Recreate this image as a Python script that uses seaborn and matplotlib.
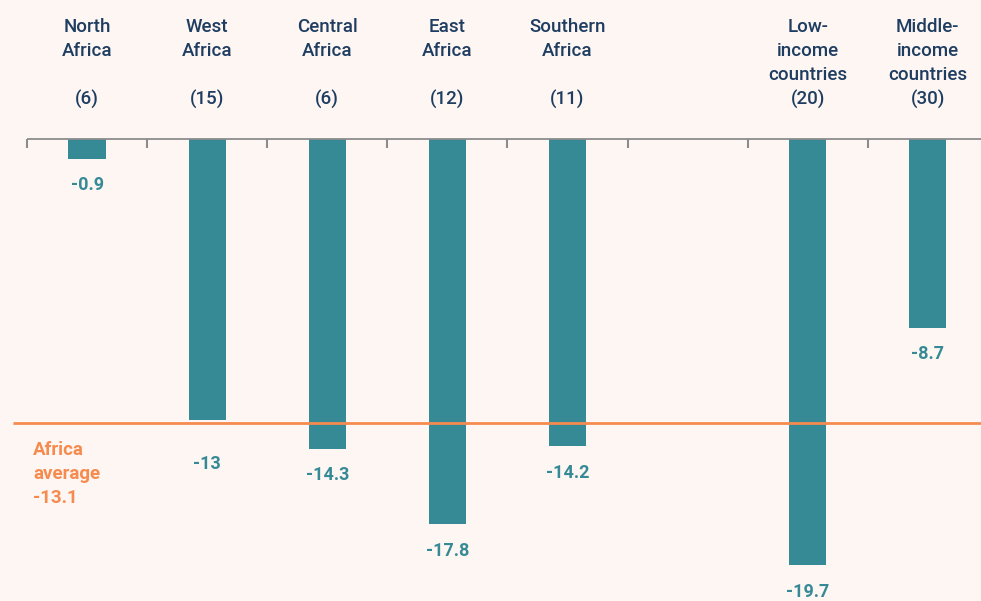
import matplotlib
matplotlib.use("Agg")
import matplotlib.pyplot as plt
import matplotlib.transforms as mtransforms
import numpy as np
import pandas as pd
import seaborn as sns

# Regional and income-group figures (number of countries in brackets)
regions = ["North\nAfrica", "West\nAfrica", "Central\nAfrica", "East\nAfrica", "Southern\nAfrica"]
region_counts = [6, 15, 6, 12, 11]
region_values = [-0.9, -13.0, -14.3, -17.8, -14.2]

income_groups = ["Low-\nincome\ncountries", "Middle-\nincome\ncountries"]
income_counts = [20, 30]
income_values = [-19.7, -8.7]

africa_average = -13.1

BG = "#FEF6F3"
TEAL = "#368A96"
ORANGE = "#F68B4F"
NAVY = "#1E3D60"
GREY = "#8C8C8C"

sns.set_theme(style="white")
plt.rcParams["font.family"] = ["Roboto", "DejaVu Sans"]

# Regions first, then an empty slot, then the income groups
positions = list(range(len(regions))) + [len(regions) + 1 + i for i in range(len(income_groups))]
labels = regions + income_groups
counts = region_counts + income_counts
values = region_values + income_values

df = pd.DataFrame({"pos": positions, "value": values, "label": labels, "count": counts})

fig = plt.figure(figsize=(9.81, 6.01), dpi=100, facecolor=BG)
ax = fig.add_axes([0, 0, 1, 1])
ax.set_facecolor(BG)

sns.barplot(data=df, x="pos", y="value", native_scale=True, width=0.31,
            color=TEAL, saturation=1, edgecolor="none", ax=ax)

x_left, x_right = -0.725, 7.443
ax.set_xlim(x_left, x_right)
ax.set_ylim(-21.35, 6.45)

# Zero line along the top with small separators between slots
n_slots = len(regions) + 1 + len(income_groups)
ax.hlines(0, -0.5, x_right, color=GREY, lw=1.3, zorder=1)
ax.vlines(np.arange(n_slots) - 0.5, -0.38, 0, color=GREY, lw=1.5, zorder=1)

# Africa average line
ax.hlines(africa_average, -0.617, x_right, color=ORANGE, lw=2.0, zorder=3)
ax.text(-0.45, africa_average - 0.85, f"Africa\naverage\n{africa_average:g}",
        color=ORANGE, fontsize=13.5, fontweight="bold", ha="left", va="top",
        linespacing=1.42)

# Category headers: name on up to three lines, country count on the fourth
trans = mtransforms.blended_transform_factory(ax.transData, ax.transAxes)
for p, lab, c in zip(positions, labels, counts):
    n_lines = lab.count("\n") + 1
    header = lab + "\n" * (3 - n_lines) + f"\n({c})"
    ax.text(p, 1 - 18 / 601, header, transform=trans, ha="center", va="top",
            fontsize=13.5, fontweight="medium", color=NAVY, linespacing=1.42)

# Value labels under the bars
for p, v in zip(positions, values):
    offset = -31 if abs(v - africa_average) < 0.5 else -19
    ax.annotate(f"{v:g}", (p, v), xytext=(0, offset), textcoords="offset points",
                ha="center", va="center", fontsize=13, fontweight="bold", color=TEAL)

ax.set_xticks([])
ax.set_yticks([])
ax.set_xlabel("")
ax.set_ylabel("")
for s in ax.spines.values():
    s.set_visible(False)

fig.savefig("out.png", dpi=100, facecolor=BG)
